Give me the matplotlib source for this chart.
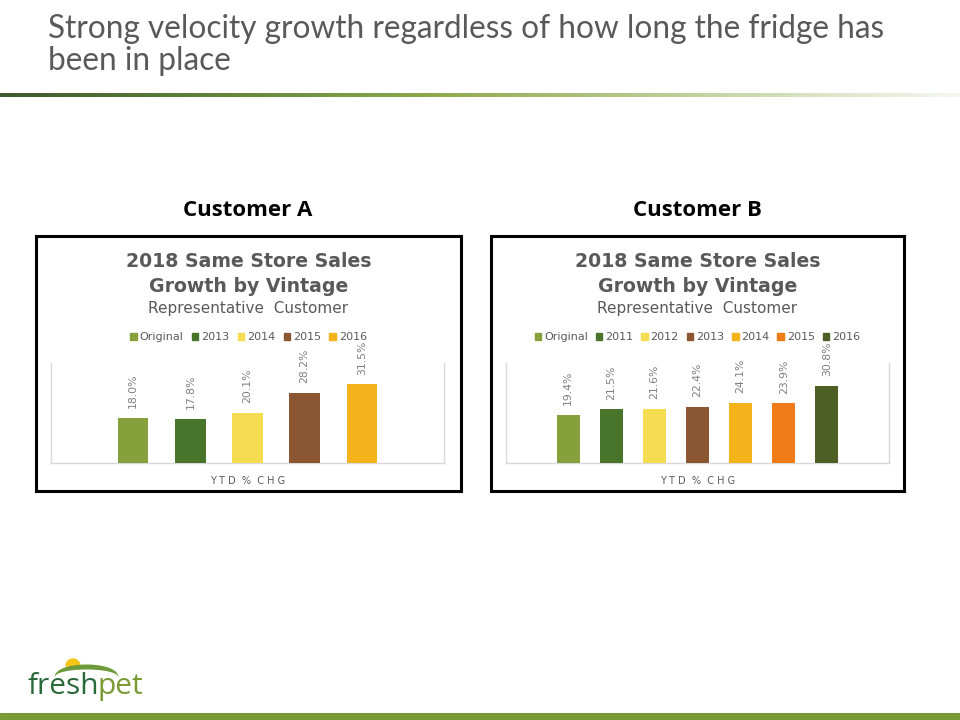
import matplotlib
matplotlib.use("Agg")
import matplotlib.pyplot as plt
import numpy as np
from matplotlib.patches import Rectangle, Wedge
from matplotlib.colors import LinearSegmentedColormap

W, H = 960, 720
fig = plt.figure(figsize=(9.6, 7.2), dpi=100)
fig.patch.set_facecolor("white")

# ---------------- data ----------------
cust_a_series = ["Original", "2013", "2014", "2015", "2016"]
cust_a_values = [18.0, 17.8, 20.1, 28.2, 31.5]
cust_a_colors = ["#86A03C", "#48742B", "#F6DC51", "#8B5732", "#F5B31B"]

cust_b_series = ["Original", "2011", "2012", "2013", "2014", "2015", "2016"]
cust_b_values = [19.4, 21.5, 21.6, 22.4, 24.1, 23.9, 30.8]
cust_b_colors = ["#86A03C", "#48742B", "#F6DC51", "#8B5732", "#F5B31B", "#F07C18", "#4E5F25"]

slide_title = "Strong velocity growth regardless of how long the fridge has\nbeen in place"
chart_title = "2018 Same Store Sales\nGrowth by Vintage"
chart_subtitle = "Representative  Customer"
axis_label = "Y T D  %  C H G"

GRAY = "#595959"
LABEL_GRAY = "#808080"


def rect(x0, y0, x1, y1):
    """pixel box (top-left origin) -> figure fraction rect"""
    return [x0 / W, 1 - y1 / H, (x1 - x0) / W, (y1 - y0) / H]


def px(x, y):
    return x / W, 1 - y / H


# ---------------- slide title ----------------
fig.text(*px(48, 38), slide_title.split("\n")[0], ha="left", va="baseline",
         fontsize=22.7, color=GRAY, family="Lato")
fig.text(*px(48, 70), slide_title.split("\n")[1], ha="left", va="baseline",
         fontsize=22.7, color=GRAY, family="Lato")

# gradient rule under title
gax = fig.add_axes(rect(0, 93, 960, 97))
grad = np.linspace(0, 1, 512).reshape(1, -1)
cmap = LinearSegmentedColormap.from_list(
    "g", [(0.0, "#3E5A2E"), (0.2, "#5C8038"), (0.45, "#8DAA4A"),
          (0.75, "#C6D5A6"), (1.0, "#F6F8F0")])
gax.imshow(grad, aspect="auto", cmap=cmap, extent=[0, 1, 0, 1])
gax.axis("off")

# bottom rule
bax = fig.add_axes(rect(0, 713, 960, 720))
bax.add_patch(Rectangle((0, 0), 1, 1, color="#7A9A35"))
bax.set_xlim(0, 1); bax.set_ylim(0, 1)
bax.axis("off")

# logo
lax = fig.add_axes(rect(50, 652, 130, 682))
lax.set_xlim(0, 80); lax.set_ylim(0, 30)
lax.axis("off")
lax.add_patch(Wedge((23, 16), 7, 0, 180, color="#F5C518"))
tt = np.linspace(0, np.pi, 60)
lax.fill_between(4 + 64 * (1 - np.cos(tt)) / 2, 4 + 14 * np.sin(tt) ** 0.8,
                 4 + 9 * np.sin(tt) ** 0.8, color="#6E9A3A", lw=0)
fig.text(*px(28, 694), "fresh", ha="left", va="baseline", fontsize=21.5,
         color="#2A6A3A", family="Open Sans")
fig.text(*px(98, 694), "pet", ha="left", va="baseline", fontsize=21.5,
         color="#7A9A35", family="Open Sans")

# section headers
fig.text(*px(248, 210), "Customer A", ha="center", va="center", fontsize=16,
         fontweight="bold", color="black", family="Open Sans")
fig.text(*px(697, 210), "Customer B", ha="center", va="center", fontsize=16,
         fontweight="bold", color="black", family="Open Sans")


def draw_chart(box, plot, series, values, colors, xpad, colspace):
    bx0, by0, bx1, by1 = box
    cx = (bx0 + bx1) / 2
    # frame box
    fax = fig.add_axes(rect(bx0, by0, bx1, by1))
    fax.set_xticks([]); fax.set_yticks([])
    for s in fax.spines.values():
        s.set_linewidth(2.2)
        s.set_color("black")
    fax.set_zorder(0)

    t1, t2 = chart_title.split("\n")
    fig.text(*px(cx, 267), t1, ha="center", va="baseline", fontsize=13.6,
             fontweight="bold", color=GRAY, family="DejaVu Sans")
    fig.text(*px(cx, 292), t2, ha="center", va="baseline", fontsize=13.6,
             fontweight="bold", color=GRAY, family="DejaVu Sans")
    fig.text(*px(cx, 313), chart_subtitle, ha="center", va="baseline",
             fontsize=11, color=GRAY, family="DejaVu Sans")

    ax = fig.add_axes(rect(*plot))
    ax.set_zorder(2)
    ax.patch.set_alpha(0)
    n = len(values)
    xs = np.arange(n)
    bars = ax.bar(xs, values, width=0.53, color=colors, label=series, zorder=3)
    ax.set_xlim(-xpad, n - 1 + xpad)
    ax.set_ylim(0, 40)
    ax.set_xticks([]); ax.set_yticks([])
    for side in ["left", "right", "bottom"]:
        ax.spines[side].set_color("#D9D9D9")
        ax.spines[side].set_linewidth(1)
    ax.spines["top"].set_visible(False)
    for b, v in zip(bars, values):
        ax.annotate(f"{v:.1f}%", (b.get_x() + b.get_width() / 2, v),
                    xytext=(0, 7), textcoords="offset points",
                    ha="center", va="bottom", rotation=90, fontsize=7.8,
                    color=LABEL_GRAY, family="DejaVu Sans")
    handles = [Rectangle((0, 0), 1, 1, color=c) for c in colors]
    leg = ax.legend(handles, series, loc="center",
                    bbox_to_anchor=(cx / W, 1 - 337 / H),
                    bbox_transform=fig.transFigure, ncol=n, frameon=False,
                    fontsize=8, handlelength=0.6, handleheight=0.6,
                    handletextpad=0.25, columnspacing=colspace)
    for t in leg.get_texts():
        t.set_color(GRAY)
    fig.text(*px((plot[0] + plot[2]) / 2, 481), axis_label, ha="center",
             va="center", fontsize=7, color=GRAY, family="DejaVu Sans")


draw_chart((36, 236, 461, 491), (51, 363, 444, 463),
           cust_a_series, cust_a_values, cust_a_colors, 1.44, 0.75)
draw_chart((491, 236, 904, 491), (506, 363, 889, 463),
           cust_b_series, cust_b_values, cust_b_colors, 1.44, 0.7)

fig.savefig("out.png", dpi=100, facecolor="white")
